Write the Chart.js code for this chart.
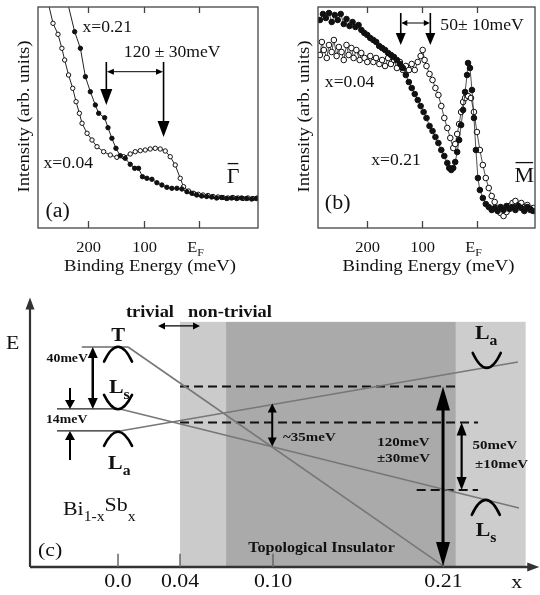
<!DOCTYPE html>
<html>
<head>
<meta charset="utf-8">
<script src="https://cdn.jsdelivr.net/npm/chart.js@4.4.1/dist/chart.umd.min.js"></script>
<style>
body { margin: 0; background: #fff; }
#wrap { position: relative; width: 540px; height: 595px; }
canvas { position: absolute; }
</style>
</head>
<body>
<div id="wrap">
  <canvas id="gamma" width="270" height="290" style="left:0;top:0"></canvas>
  <canvas id="mpoint" width="270" height="290" style="left:270px;top:0"></canvas>
  <canvas id="phase" width="540" height="305" style="left:0;top:290px"></canvas>
</div>
<script>
// ---- panel (a): Gamma-bar spectra, binding energy (meV) vs intensity (arb.)
const gammaE04 = [272, 263, 254, 247, 242, 235, 227.5, 221.5, 215.5, 210.7, 201.7, 192.8, 183.8, 171.9, 159.9, 148, 136, 124, 115, 106, 97, 88, 79, 70, 61, 52, 43, 34, 28, 19, 10, 1.4, -7, -16, -25, -34, -43, -52, -61, -70, -79, -88, -97, -105];
const gammaI04 = [226, 204.7, 193.7, 179.7, 168, 153, 139.7, 126.3, 114.7, 104.7, 94.7, 88, 81.3, 76.3, 73, 70.7, 71.3, 74, 76.3, 77.3, 78, 79, 79.7, 79, 77, 71.3, 63, 49.7, 41.3, 37, 34.7, 33.7, 33, 32.5, 31.5, 31, 30.5, 30, 30.5, 30, 29.5, 30, 29.5, 30];
const gammaE21 = [237, 224, 213.7, 204.7, 195.8, 186.8, 180.8, 170, 164, 157, 149.7, 142, 133, 124, 116, 109, 102, 94, 85, 76, 67, 58, 49, 40, 31, 22, 13, 4.4, -4.5, -13.5, -22.5, -31.5, -40.5, -49.5, -58.5, -67.5, -76.5, -85.5, -94.5, -103];
const gammaI21 = [226, 196.3, 179.7, 151.3, 136.3, 123, 114.7, 110.3, 100.3, 89.7, 79.7, 72.3, 69.7, 63.7, 59.7, 59.7, 51.3, 49.7, 48.7, 45.3, 43, 40.7, 39.7, 39.7, 39, 36.3, 34.7, 33, 32, 31.5, 31, 30, 30.5, 29.5, 30, 29.5, 30, 29.5, 29, 29.5];

// ---- panel (b): M-bar spectra
const mE04 = [286.5, 283, 279.3, 274, 270, 265, 261, 256, 252, 247, 243, 238, 234, 229, 225, 220, 214, 211, 205, 200, 194.6, 189, 184, 178, 173, 167.6, 162, 157, 151, 146, 140.5, 135, 129.7, 124, 119, 113.5, 108, 102.7, 99, 95.5, 92, 86.5, 81, 75.7, 70.3, 65, 59.5, 54, 48.6, 43.2, 39.6, 36, 32.4, 28.8, 25.2, 21.6, 16.2, 10.8, 5.4, 0, -5.4, -10.8, -16.2, -21.6, -27, -32.4, -37.8, -43.2, -48.6, -54, -59.5, -65, -70.3, -75.7, -81, -86.5, -92, -97.3, -102.7];
const mI04 = [173, 186, 178, 170, 183, 176, 188, 172, 181, 176, 168, 183, 173, 180, 170, 178, 168, 175, 170, 166, 172, 166, 170, 164, 168, 162, 170, 164, 168, 160, 166, 158, 162, 158, 164, 158, 166, 172, 178, 168, 162, 154, 148, 140, 133, 122, 110, 100, 90, 80, 84, 94, 104, 116, 126, 130, 132, 130, 116, 96, 78, 63, 50, 40, 32, 26, 20, 15, 12, 16, 22, 25, 27, 23, 25, 21, 23, 18, 20];
const mE21 = [286.5, 281, 275.7, 270, 265, 259.5, 254, 248.6, 243, 238, 232.4, 227, 221.6, 216, 210.8, 205.4, 200, 194.6, 189, 183.8, 178.4, 173, 167.6, 162, 156.8, 151.4, 146, 140.5, 135, 129.7, 124.3, 119, 113.5, 108, 102.7, 97.3, 92, 86.5, 81, 75.7, 70.3, 65, 59.5, 54, 50.5, 46.8, 43.2, 39.6, 36, 32.4, 28.8, 25.2, 21.6, 18, 16.2, 12.6, 9, 5.4, 1.8, -1.8, -5.4, -10.8, -16.2, -21.6, -27, -32.4, -37.8, -43.2, -48.6, -54, -59.5, -65, -70.3, -75.7, -81, -86.5, -92, -97.3, -102.7];
const mI21 = [208, 214, 210, 215, 206, 213, 208, 214, 204, 209, 202, 206, 201, 203, 198, 195, 193, 190, 188, 186, 182, 180, 178, 175, 173, 171, 168, 164, 160, 153, 146, 140, 134, 128, 122, 116, 110, 102, 97, 91, 85, 78, 72, 65, 60, 58, 60, 66, 76, 88, 103, 118, 136, 153, 165, 160, 138, 110, 78, 50, 38, 30, 24, 21, 18, 20, 17, 21, 18, 22, 19, 21, 18, 22, 20, 17, 21, 19, 17];

const energyTicks = [200, 100, 0];
const energyTickLabels = ['200', '100', 'EF'];

// ---- panel (c): band schematic vs Sb content x (E in ~meV)
const compTicks = [0.0, 0.04, 0.10, 0.21];
const compTickLabels = ['0.0', '0.04', '0.10', '0.21'];
const levelE = [140.0, 100.6, 86.6];          // T, Ls, La at x = 0
const stubFrom = [-0.0234, -0.0394, -0.0394];
const stubTo = [0.0065, 0.0013, 0.0013];
const slopeEndX = [0.21, 0.2587, 0.258];
const slopeEndE = [0.5, 37.6, 130.5];
const dashE = [114.8, 91.9, 49.0];
const dashFrom = [0.04, 0.04, 0.1927];
const dashTo = [0.2185, 0.2323, 0.2323];
const regionFrom = [0.04, 0.0697, 0.218];
const regionTo = [0.0697, 0.218, 0.263];
const regionTopE = 156;
const cupX = [0, 0, 0, 0.2379, 0.2373];
const cupE = [140.2, 100.4, 86.1, 126.7, 42.7];
const cupDepth = [-9.5, 9.1, -9, 9.5, -9.5];

const SERIF = '"Liberation Serif", "Times New Roman", serif';

function $(id) {
    return document.getElementById(id);
}

// draws text pieces; y is the visual middle of capitals
function rich(ctx, parts, x, y, size, o) {
    o = o || {};
    const sx = o.sx || 1;
    const wt = o.bold ? 'bold ' : '';
    ctx.save();
    ctx.fillStyle = o.color || '#111';
    ctx.textBaseline = 'alphabetic';
    ctx.textAlign = 'left';
    let total = 0;
    const items = parts.map(p => {
        const kind = p[1] || 'n';
        const sz = kind === 'sub' ? size * 0.72 : size;
        ctx.font = wt + sz + 'px ' + SERIF;
        const w = ctx.measureText(p[0]).width * sx;
        total += w;
        let dy = 0;
        if (kind === 'sub') dy = size * 0.3;
        if (kind === 'up') dy = -size * 0.22;
        return { s: p[0], sz, w, dy };
    });
    let cx = x;
    if (o.align === 'center') cx = x - total / 2;
    else if (o.align === 'right') cx = x - total;
    const base = y + size * 0.33;
    items.forEach(it => {
        ctx.font = wt + it.sz + 'px ' + SERIF;
        ctx.save();
        ctx.translate(cx, base + it.dy);
        ctx.scale(sx, 1);
        ctx.fillText(it.s, 0, 0);
        ctx.restore();
        cx += it.w;
    });
    ctx.restore();
    return total;
}

function txt(ctx, s, x, y, size, o) {
    return rich(ctx, [[s]], x, y, size, o);
}

function head(ctx, x, y, a, hl, hw) {
    const c = Math.cos(a), s = Math.sin(a);
    ctx.beginPath();
    ctx.moveTo(x, y);
    ctx.lineTo(x - hl * c - hw * s, y - hl * s + hw * c);
    ctx.lineTo(x - hl * c + hw * s, y - hl * s - hw * c);
    ctx.closePath();
    ctx.fill();
}

function arrow(ctx, x1, y1, x2, y2, o) {
    const lw = o.lw || 1.5, hl = o.hl || 10, hw = o.hw || 4;
    const a = Math.atan2(y2 - y1, x2 - x1);
    const c = Math.cos(a), s = Math.sin(a);
    ctx.save();
    ctx.strokeStyle = ctx.fillStyle = o.color || '#000';
    ctx.lineWidth = lw;
    let sx = x1, sy = y1;
    if (o.both) { sx = x1 + c * hl * 0.7; sy = y1 + s * hl * 0.7; }
    ctx.beginPath();
    ctx.moveTo(sx, sy);
    ctx.lineTo(x2 - c * hl * 0.7, y2 - s * hl * 0.7);
    ctx.stroke();
    head(ctx, x2, y2, a, hl, hw);
    if (o.both) head(ctx, x1, y1, a + Math.PI, hl, hw);
    ctx.restore();
}

function bar(ctx, ch, x, y, size) {
    const w = txt(ctx, ch, x, y, size, { align: 'center', sx: 1.1 });
    ctx.save();
    ctx.strokeStyle = '#111';
    ctx.lineWidth = 1.3;
    ctx.beginPath();
    ctx.moveTo(x - w / 2 + 1, y - size * 0.62);
    ctx.lineTo(x + w / 2 - 1, y - size * 0.62);
    ctx.stroke();
    ctx.restore();
}

// box, inward ticks, tick labels and axis titles for (a) and (b)
function spectrumFrame(chart) {
    const { ctx, chartArea: a, scales: { x, y } } = chart;
    ctx.save();
    ctx.strokeStyle = '#444';
    ctx.lineWidth = 1.3;
    ctx.strokeRect(a.left, a.top, a.right - a.left, a.bottom - a.top);
    energyTicks.forEach((v, i) => {
        const px = Math.round(x.getPixelForValue(v)) + 0.5;
        ctx.beginPath();
        ctx.moveTo(px, a.bottom); ctx.lineTo(px, a.bottom - 7);
        ctx.moveTo(px, a.top); ctx.lineTo(px, a.top + 6);
        ctx.stroke();
        const ty = y.getPixelForValue(-19);
        if (energyTickLabels[i] === 'EF') {
            rich(ctx, [['E'], ['F', 'sub']], px - 4, ty, 15, { align: 'center', sx: 1.1 });
        } else {
            txt(ctx, energyTickLabels[i], px, ty, 15, { align: 'center', sx: 1.1 });
        }
    });
    ctx.restore();
    txt(ctx, 'Binding Energy (meV)', (a.left + a.right) / 2 + 2, y.getPixelForValue(-37), 17, { align: 'center', sx: 1.1 });
    ctx.save();
    ctx.translate(x.getPixelForValue(317), (a.top + a.bottom) / 2 - 1);
    ctx.rotate(-Math.PI / 2);
    txt(ctx, 'Intensity (arb. units)', 0, 0, 17, { align: 'center', sx: 1.1 });
    ctx.restore();
}

function spectrumChart(id, pad, series, notes) {
    return new Chart($(id), {
        type: 'scatter',
        data: {
            datasets: series.map(s => ({
                data: s.e.map((v, i) => ({ x: v, y: s.v[i] })),
                showLine: true,
                borderColor: '#222',
                borderWidth: s.lw,
                pointRadius: c => (s.lead && c.dataIndex === 0) ? 0 : s.r,
                pointBackgroundColor: s.filled ? '#111' : '#fff',
                pointBorderColor: '#111',
                pointBorderWidth: 1,
                clip: 0
            }))
        },
        options: {
            responsive: false,
            animation: false,
            events: [],
            layout: { padding: pad },
            plugins: { legend: { display: false }, tooltip: { enabled: false } },
            scales: {
                x: { type: 'linear', min: -106, max: 290, reverse: true, display: false },
                y: { type: 'linear', min: 0, max: 221, display: false }
            }
        },
        plugins: [{
            id: 'frame',
            afterDraw(chart) {
                spectrumFrame(chart);
                notes(chart.ctx, chart.scales.x, chart.scales.y);
            }
        }]
    });
}

spectrumChart('gamma', { left: 38, top: 7, right: 12, bottom: 62 }, [
    { e: gammaE21, v: gammaI21, filled: true, r: 2.2, lw: 1, lead: true },
    { e: gammaE04, v: gammaI04, filled: false, r: 2.2, lw: 1, lead: true }
], (ctx, X, Y) => {
    arrow(ctx, X.getPixelForValue(167), Y.getPixelForValue(166), X.getPixelForValue(167), Y.getPixelForValue(123), { lw: 1.6, hl: 16, hw: 6 });
    arrow(ctx, X.getPixelForValue(64), Y.getPixelForValue(166), X.getPixelForValue(64), Y.getPixelForValue(91), { lw: 1.6, hl: 16, hw: 6 });
    arrow(ctx, X.getPixelForValue(166), Y.getPixelForValue(156.3), X.getPixelForValue(65), Y.getPixelForValue(156.3), { lw: 1, hl: 7, hw: 3, both: true });
    rich(ctx, [['120 '], ['\u00b1'], [' 30meV']], X.getPixelForValue(48.5), Y.getPixelForValue(176), 16, { align: 'center', sx: 1.1 });
    txt(ctx, 'x=0.21', X.getPixelForValue(210), Y.getPixelForValue(201), 16, { sx: 1.1 });
    txt(ctx, 'x=0.04', X.getPixelForValue(280), Y.getPixelForValue(65), 16, { sx: 1.1 });
    txt(ctx, '(a)', X.getPixelForValue(276.5), Y.getPixelForValue(18), 20, { sx: 1.1 });
    bar(ctx, '\u0393', X.getPixelForValue(-61), Y.getPixelForValue(52), 20);
});

spectrumChart('mpoint', { left: 48, top: 7, right: 2, bottom: 62 }, [
    { e: mE21, v: mI21, filled: true, r: 2.8, lw: 0.8 },
    { e: mE04, v: mI04, filled: false, r: 2.8, lw: 0.8 }
], (ctx, X, Y) => {
    arrow(ctx, X.getPixelForValue(139), Y.getPixelForValue(215), X.getPixelForValue(139), Y.getPixelForValue(183), { lw: 1.6, hl: 12, hw: 5 });
    arrow(ctx, X.getPixelForValue(85), Y.getPixelForValue(215), X.getPixelForValue(85), Y.getPixelForValue(183), { lw: 1.6, hl: 12, hw: 5 });
    arrow(ctx, X.getPixelForValue(138), Y.getPixelForValue(205), X.getPixelForValue(86), Y.getPixelForValue(205), { lw: 1, hl: 6, hw: 3, both: true });
    rich(ctx, [['50'], ['\u00b1'], [' 10meV']], X.getPixelForValue(66.7), Y.getPixelForValue(203), 16, { sx: 1.1 });
    txt(ctx, 'x=0.04', X.getPixelForValue(277.5), Y.getPixelForValue(146), 16, { sx: 1.1 });
    txt(ctx, 'x=0.21', X.getPixelForValue(192.8), Y.getPixelForValue(68), 16, { sx: 1.1 });
    txt(ctx, '(b)', X.getPixelForValue(277.5), Y.getPixelForValue(26), 20, { sx: 1.1 });
    bar(ctx, 'M', X.getPixelForValue(-86.5), Y.getPixelForValue(53), 20);
});

// ---- panel (c)
const phaseSets = [];
levelE.forEach((e, i) => {
    phaseSets.push({
        data: [{ x: stubFrom[i], y: e }, { x: stubTo[i], y: e }],
        borderColor: '#222', borderWidth: 1.2
    });
    phaseSets.push({
        data: [{ x: stubTo[i], y: e }, { x: slopeEndX[i], y: slopeEndE[i] }],
        borderColor: '#777', borderWidth: 1.6
    });
});
dashE.forEach((e, i) => {
    phaseSets.push({
        data: [{ x: dashFrom[i], y: e }, { x: dashTo[i], y: e }],
        borderColor: '#111', borderWidth: 2, borderDash: [9, 5]
    });
});

new Chart($('phase'), {
    type: 'scatter',
    data: {
        datasets: phaseSets.map(d => Object.assign({ showLine: true, pointRadius: 0, clip: false }, d))
    },
    options: {
        responsive: false,
        animation: false,
        events: [],
        layout: { padding: { left: 30, top: 13, right: 6, bottom: 28 } },
        plugins: { legend: { display: false }, tooltip: { enabled: false } },
        scales: {
            x: { type: 'linear', min: -0.0568, max: 0.2684, display: false },
            y: { type: 'linear', min: 0, max: 168, display: false }
        }
    },
    plugins: [{
        id: 'schematic',
        beforeDatasetsDraw(chart) {
            const { ctx, scales: { x, y } } = chart;
            const shades = ['#cbcbcb', '#aaaaaa', '#cdcdcd'];
            regionFrom.forEach((f, i) => {
                const l = x.getPixelForValue(f), r = x.getPixelForValue(regionTo[i]);
                const t = y.getPixelForValue(regionTopE), b = y.getPixelForValue(0);
                ctx.fillStyle = shades[i];
                ctx.fillRect(l, t, r - l, b - t);
            });
        },
        afterDatasetsDraw(chart) {
            const { ctx, scales: { x, y } } = chart;
            const X = v => x.getPixelForValue(v), Y = v => y.getPixelForValue(v);
            const S = 1.15;

            // axes with arrow tips
            arrow(ctx, X(-0.0568), Y(0), X(-0.0568), Y(171.5), { lw: 2.2, hl: 12, hw: 4.5, color: '#333' });
            arrow(ctx, X(-0.0568), Y(0), X(0.2718), Y(0), { lw: 2.5, hl: 12, hw: 4.5, color: '#333' });
            ctx.save();
            ctx.strokeStyle = '#666';
            ctx.lineWidth = 1.5;
            compTicks.forEach((v, i) => {
                ctx.beginPath();
                ctx.moveTo(X(v), Y(0));
                ctx.lineTo(X(v), Y(8.5));
                ctx.stroke();
                txt(ctx, compTickLabels[i], X(v), Y(-9), 19, { align: 'center', sx: S });
            });
            ctx.restore();
            txt(ctx, 'x', X(0.2572), Y(-9.5), 19, { align: 'center', sx: S });
            txt(ctx, 'E', X(-0.068), Y(142.6), 19, { align: 'center', sx: S });

            // band-edge parabolas
            ctx.save();
            ctx.strokeStyle = '#000';
            ctx.lineWidth = 2.6;
            ctx.lineCap = 'round';
            cupX.forEach((cx, i) => {
                const px = X(cx), py = Y(cupE[i]), py2 = Y(cupE[i] + cupDepth[i]);
                ctx.beginPath();
                ctx.moveTo(px - 14, py2);
                ctx.quadraticCurveTo(px, 2 * py - py2, px + 14, py2);
                ctx.stroke();
            });
            ctx.restore();

            // gap arrows
            arrow(ctx, X(-0.0163), Y(140), X(-0.0163), Y(100.6), { lw: 2.5, hl: 11, hw: 5, both: true });
            arrow(ctx, X(-0.031), Y(113.9), X(-0.031), Y(100.6), { lw: 2, hl: 9, hw: 5 });
            arrow(ctx, X(-0.031), Y(68.1), X(-0.031), Y(86.6), { lw: 2, hl: 9, hw: 5 });
            arrow(ctx, X(0.0995), Y(104), X(0.0995), Y(76.7), { lw: 2, hl: 9, hw: 4.5, both: true });
            arrow(ctx, X(0.2097), Y(114.8), X(0.2097), Y(0.6), { lw: 3, hl: 24, hw: 7, both: true });
            arrow(ctx, X(0.2217), Y(91.9), X(0.2217), Y(49), { lw: 2.2, hl: 13, hw: 5, both: true });
            arrow(ctx, X(0.0258), Y(153.4), X(0.0529), Y(153.4), { lw: 1.3, hl: 7, hw: 3.5, both: true });

            // labels
            const B = { bold: true, sx: S };
            txt(ctx, 'trivial', X(0.0206), Y(162.5), 16, { bold: true, sx: S, align: 'center' });
            txt(ctx, 'non-trivial', X(0.0452), Y(162.5), 16, B);
            txt(ctx, 'T', X(0), Y(147.7), 18, { bold: true, sx: S, align: 'center' });
            rich(ctx, [['L'], ['s', 'sub']], X(0.0008), Y(114.8), 19, { bold: true, sx: S, align: 'center' });
            rich(ctx, [['L'], ['a', 'sub']], X(0.0008), Y(66.2), 19, { bold: true, sx: S, align: 'center' });
            rich(ctx, [['L'], ['a', 'sub']], X(0.2375), Y(148.8), 19, { bold: true, sx: S, align: 'center' });
            rich(ctx, [['L'], ['s', 'sub']], X(0.2375), Y(23.6), 19, { bold: true, sx: S, align: 'center' });
            txt(ctx, '40meV', X(-0.0194), Y(133), 12, { bold: true, sx: S, align: 'right' });
            txt(ctx, '14meV', X(-0.0198), Y(94), 12, { bold: true, sx: S, align: 'right' });
            txt(ctx, '~35meV', X(0.1065), Y(82.7), 13, B);
            txt(ctx, '120meV', X(0.1842), Y(79.6), 13, { bold: true, sx: S, align: 'center' });
            txt(ctx, '\u00b130meV', X(0.1842), Y(69.4), 13, { bold: true, sx: S, align: 'center' });
            txt(ctx, '50meV', X(0.2432), Y(77.7), 13, { bold: true, sx: S, align: 'center' });
            txt(ctx, '\u00b110meV', X(0.2475), Y(66), 13, { bold: true, sx: S, align: 'center' });
            txt(ctx, 'Topological Insulator', X(0.1313), Y(12.7), 14, { bold: true, sx: S, align: 'center' });
            rich(ctx, [['Bi'], ['1-x', 'sub'], ['Sb', 'up'], ['x', 'sub']], X(-0.0355), Y(37), 19, { sx: S });
            txt(ctx, '(c)', X(-0.0516), Y(10.8), 19, { sx: S });
        }
    }]
});
</script>
</body>
</html>
